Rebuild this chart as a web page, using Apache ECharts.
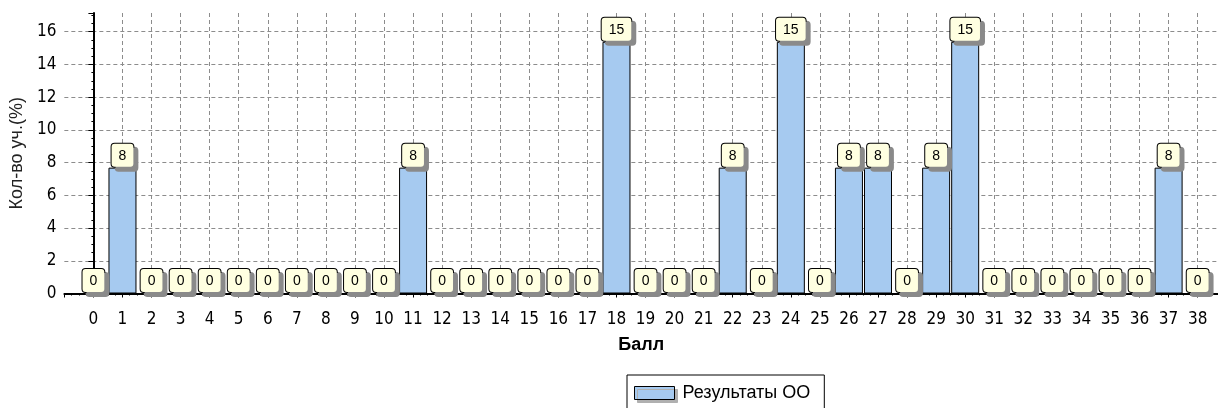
<!DOCTYPE html>
<html>
<head>
<meta charset="utf-8">
<script src="https://cdn.jsdelivr.net/npm/echarts@6/dist/echarts.min.js"></script>
<style>
  html, body { margin: 0; padding: 0; background: #fff; }
  #chart { width: 1218px; height: 408px; }
</style>
</head>
<body>
<div id="chart"></div>
<script>
// баллы 0..38
const scores = [0, 1, 2, 3, 4, 5, 6, 7, 8, 9, 10, 11, 12, 13, 14, 15, 16, 17, 18, 19,
  20, 21, 22, 23, 24, 25, 26, 27, 28, 29, 30, 31, 32, 33, 34, 35, 36, 37, 38]
// доля участников, %
const percents = [0, 7.69, 0, 0, 0, 0, 0, 0, 0, 0, 0, 7.69, 0, 0, 0, 0, 0, 0, 15.38, 0,
  0, 0, 7.69, 0, 15.38, 0, 7.69, 7.69, 0, 7.69, 15.38, 0, 0, 0, 0, 0, 0, 7.69, 0]
const seriesName = 'Результаты ОО'
const xTitle = 'Балл'
const yTitle = 'Кол-во уч.(%)'

const narrow = "'DejaVu Sans Condensed', 'Liberation Sans Narrow', sans-serif"
const sans = "'Liberation Sans', Arial, sans-serif"

const chart = echarts.init(document.getElementById('chart'), null, { renderer: 'canvas' })

const option = {
  backgroundColor: '#fff',
  animation: false,
  grid: { left: 63.5, right: 0, top: 13, bottom: 114.5 },
  legend: {
    left: 627,
    top: 375,
    backgroundColor: '#fff',
    borderColor: '#000',
    borderWidth: 1,
    padding: [9, 14, 9, 7],
    itemWidth: 40,
    itemHeight: 13,
    icon: 'rect',
    itemStyle: {
      borderColor: '#000',
      borderWidth: 1,
      shadowColor: '#b0b0b0',
      shadowOffsetX: 3,
      shadowOffsetY: 3
    },
    textStyle: { fontFamily: sans, fontSize: 18, color: '#000', padding: [0, 0, 0, 3] },
    data: [seriesName]
  },
  xAxis: {
    type: 'value',
    min: -1,
    max: 38.7,
    interval: 1,
    name: xTitle,
    nameLocation: 'middle',
    nameGap: 43,
    nameTextStyle: { fontFamily: sans, fontSize: 18, fontWeight: 'bold', color: '#000', verticalAlign: 'top' },
    axisLine: { show: true, onZero: false, lineStyle: { color: '#000', width: 2 } },
    axisTick: { show: true, length: 4, lineStyle: { color: '#000' } },
    minorTick: { show: true, splitNumber: 4, length: 2, lineStyle: { color: '#000' } },
    axisLabel: {
      margin: 18,
      fontFamily: narrow,
      fontSize: 17,
      color: '#000',
      showMinLabel: false,
      showMaxLabel: false,
      formatter: v => (Number.isInteger(v) && v >= 0 && v <= 38) ? String(v) : ''
    },
    splitLine: {
      show: true,
      showMinLine: false,
      showMaxLine: false,
      lineStyle: { color: '#8c8c8c', type: [4, 3], width: 1 }
    }
  },
  yAxis: {
    type: 'value',
    min: 0,
    max: 17.14,
    interval: 2,
    name: yTitle,
    nameLocation: 'middle',
    nameGap: 30,
    nameTextStyle: { fontFamily: sans, fontSize: 18, color: '#222' },
    axisLine: { show: true, lineStyle: { color: '#000', width: 2 } },
    axisTick: { show: true, length: 5, lineStyle: { color: '#000' } },
    minorTick: { show: true, splitNumber: 4, length: 2, lineStyle: { color: '#000' } },
    axisLabel: {
      margin: 8,
      fontFamily: narrow,
      fontSize: 17,
      color: '#000',
      showMaxLabel: false,
      formatter: v => (Number.isInteger(v) && v % 2 === 0) ? String(v) : ''
    },
    splitLine: {
      show: true,
      showMinLine: false,
      showMaxLine: false,
      lineStyle: { color: '#8c8c8c', type: [4, 3], width: 1 }
    }
  },
  series: [{
    name: seriesName,
    type: 'bar',
    barWidth: 28,
    data: scores.map((s, i) => [s, percents[i]]),
    itemStyle: { color: '#a6caf0', borderColor: '#000', borderWidth: 1 },
    label: {
      show: true,
      position: 'top',
      distance: 1,
      formatter: p => String(Math.round(p.value[1])),
      fontFamily: sans,
      fontSize: 14,
      color: '#000',
      backgroundColor: '#ffffe1',
      borderColor: '#000',
      borderWidth: 1,
      borderRadius: 3,
      padding: [5, 7, 4, 7],
      shadowColor: '#8a8a8a',
      shadowOffsetX: 4,
      shadowOffsetY: 4,
      shadowBlur: 0
    },
    emphasis: { disabled: true }
  }]
}

chart.setOption(option)
</script>
</body>
</html>
